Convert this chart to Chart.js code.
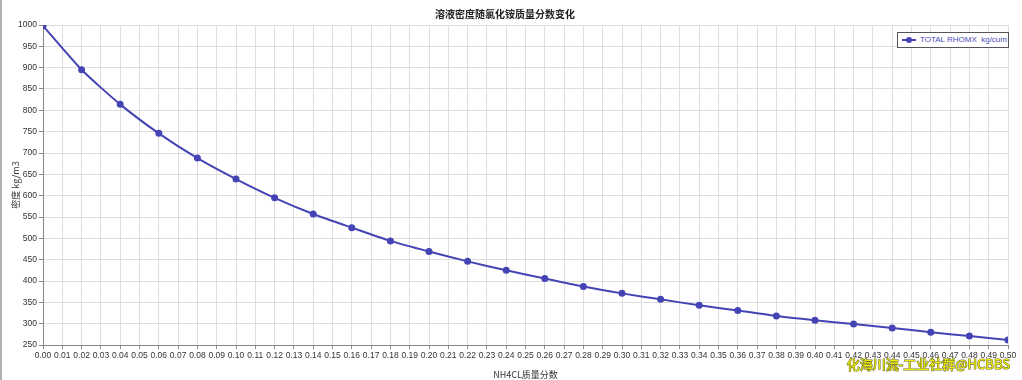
<!DOCTYPE html>
<html>
<head>
<meta charset="utf-8">
<script src="https://cdn.jsdelivr.net/npm/chart.js@4"></script>
<style>
  html, body { margin: 0; padding: 0; background: #fff; }
  #wrap { position: relative; width: 1022px; height: 380px; border-left: 2px solid #b0b0b0; box-sizing: border-box; }
  #legend { position: absolute; left: 895px; top: 32px; width: 110px; height: 14px; border: 1px solid #555; background: #fff;
            font: 8px "Liberation Sans", Arial, sans-serif; color: #4a4ab8; line-height: 14px; white-space: nowrap; overflow: hidden; }
  #legend .mk { display: inline-block; position: relative; width: 14px; height: 14px; vertical-align: top; margin: 0 4px 0 4px; }
  #legend .mk::before { content: ""; position: absolute; left: 0; top: 6px; width: 14px; height: 2px; background: #4444b4; }
  #legend .mk::after { content: ""; position: absolute; left: 4px; top: 4px; width: 6px; height: 6px; border-radius: 50%; background: #4444b4; }
</style>
</head>
<body>
<div id="wrap">
  <canvas id="c" width="1020" height="380"></canvas>
  <div id="legend"><span class="mk"></span>TOTAL RHOMX&nbsp; kg/cum</div>
</div>
<script>
// ---------------- Data ----------------
const MASS_FRACTION = [0.00, 0.02, 0.04, 0.06, 0.08, 0.10, 0.12, 0.14, 0.16, 0.18, 0.20, 0.22, 0.24,
                       0.26, 0.28, 0.30, 0.32, 0.34, 0.36, 0.38, 0.40, 0.42, 0.44, 0.46, 0.48, 0.50];
const DENSITY = [998, 895, 814, 746, 688, 639, 595, 557, 525, 494, 469, 446, 425,
                 406, 387, 371, 357, 343, 331, 318, 308, 299, 290, 280, 271, 262];
const SERIES_LABEL = "TOTAL RHOMX  kg/cum";
const TITLE = "溶液密度随氯化铵质量分数变化";
const X_TITLE = "NH4CL质量分数";
const Y_TITLE = "密度 kg/m3";
const WATERMARK = "化海川流-工业社群@HCBBS";

const LINE = "#4444b4";
const FONT = "'Liberation Sans', Arial, sans-serif";

// watermark drawn on top, bottom right
const watermark = {
  id: "watermark",
  afterDraw(chart) {
    const ctx = chart.ctx;
    ctx.save();
    ctx.font = "13px 'Noto Sans CJK SC', sans-serif";
    ctx.textAlign = "right";
    ctx.textBaseline = "middle";
    ctx.lineWidth = 1.2;
    ctx.strokeStyle = "#707030";
    ctx.strokeText(WATERMARK, 1008, 364);
    ctx.fillStyle = "#f0f000";
    ctx.fillText(WATERMARK, 1008, 364);
    ctx.restore();
  }
};

new Chart(document.getElementById("c"), {
  type: "line",
  data: {
    datasets: [{
      label: SERIES_LABEL,
      data: MASS_FRACTION.map((x, i) => ({ x, y: DENSITY[i] })),
      borderColor: LINE, backgroundColor: LINE,
      borderWidth: 2, pointRadius: 2.5, pointHoverRadius: 2.5, tension: 0.2
    }]
  },
  options: {
    responsive: false, animation: false,
    layout: { padding: { left: 0, right: 14, top: 0, bottom: 0 } },
    plugins: {
      legend: { display: false },
      tooltip: { enabled: false },
      title: { display: true, text: TITLE, color: "#222", font: { family: "'Noto Sans CJK SC', sans-serif", size: 10, weight: "bold" }, padding: { top: 8, bottom: 5 } }
    },
    scales: {
      x: {
        type: "linear", min: 0, max: 0.5,
        ticks: { stepSize: 0.01, autoSkip: false, maxRotation: 0, color: "#333", padding: 2,
                 font: { family: FONT, size: 8.5 }, callback: v => v.toFixed(2) },
        grid: { color: "#dedede", tickColor: "#888", tickLength: 4 },
        border: { color: "#888", width: 1 },
        title: { display: true, text: X_TITLE, color: "#333", font: { family: "'Noto Sans CJK SC', sans-serif", size: 9 }, padding: { top: 2, bottom: 0 } },
        afterFit: s => { s.height = 35; }
      },
      y: {
        min: 250, max: 1000,
        ticks: { stepSize: 50, color: "#333", padding: 2, font: { family: FONT, size: 8.5 }, callback: v => String(v) },
        grid: { color: "#dedede", tickColor: "#888", tickLength: 4 },
        border: { color: "#888", width: 1 },
        title: { display: true, text: Y_TITLE, color: "#333", font: { family: "'Noto Sans CJK SC', sans-serif", size: 9 }, padding: { top: 8, bottom: 0 } },
        afterFit: s => { s.width = 41; }
      }
    }
  },
  plugins: [watermark]
});
</script>
</body>
</html>
